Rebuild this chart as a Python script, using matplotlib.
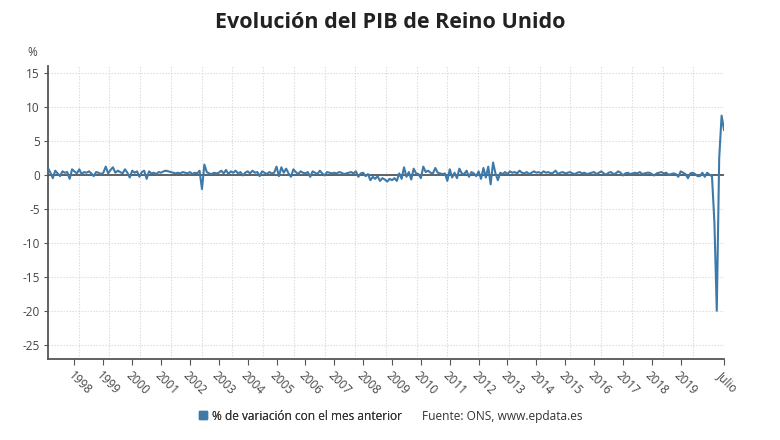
import numpy as np
import matplotlib
matplotlib.use("Agg")
import matplotlib.pyplot as plt
from matplotlib.lines import Line2D

plt.rcParams['font.family'] = ['Open Sans', 'DejaVu Sans']

# monthly % change vs previous month, Feb 1997 - Jul 2020
y1997 = [1.0, 0.3, -0.5, 0.6, 0.2, -0.2, 0.5, 0.3, 0.4, -0.6, 0.8]
y1998 = [0.5, 0.2, 0.8, 0.1, 0.4, 0.3, 0.5, 0.2, -0.2, 0.4, 0.3, 0.1]
y1999 = [0.3, 1.2, 0.2, 0.7, 1.1, 0.3, 0.6, 0.4, 0.2, 0.8, 0.3, -0.4]
y2000 = [0.6, 0.3, 0.5, -0.3, 0.4, 0.6, -0.6, 0.5, 0.2, 0.3, 0.1, 0.4]
y2001 = [0.3, 0.5, 0.6, 0.5, 0.4, 0.3, 0.2, 0.3, 0.2, 0.4, 0.3, 0.2]
y2002 = [0.4, 0.1, 0.3, 0.2, 0.6, -2.1, 1.5, 0.4, 0.2, 0.1, 0.3, 0.2]
y2003 = [0.3, 0.6, 0.2, 0.7, 0.1, 0.5, 0.3, 0.6, 0.2, 0.4, -0.1, 0.3]
y2004 = [0.5, 0.2, 0.6, 0.3, 0.4, -0.2, 0.5, 0.3, 0.1, 0.4, 0.2, 0.3]
y2005 = [1.2, -0.2, 1.1, 0.3, 0.9, 0.2, -0.3, 0.8, 0.4, 0.1, 0.5, 0.3]
y2006 = [0.2, 0.4, -0.3, 0.5, 0.3, 0.1, 0.6, 0.2, -0.1, 0.4, 0.3, 0.2]
y2007 = [0.3, 0.2, 0.4, 0.3, 0.1, 0.2, 0.3, 0.4, 0.2, 0.5, -0.3, 0.2]
y2008 = [0.3, -0.2, 0.1, -0.8, -0.3, -0.6, -0.2, -0.9, -0.5, -0.7, -1.0, -0.6]
y2009 = [-0.8, -0.5, -0.9, 0.2, -0.6, 1.1, -0.3, 0.4, -0.7, 0.9, 0.2, 0.1]
y2010 = [-0.5, 1.2, 0.4, 0.6, 0.3, 0.2, 1.0, 0.3, 0.2, 0.1, 0.2, -0.9]
y2011 = [0.8, -0.4, 0.3, -0.5, 0.9, 0.2, 0.1, 0.6, -0.3, 0.4, 0.2, -0.2]
y2012 = [0.5, -0.6, 1.0, -0.4, 1.2, -1.4, 1.8, 0.2, -0.8, 0.3, 0.1, 0.4]
y2013 = [0.1, 0.5, 0.3, 0.4, 0.2, 0.6, 0.3, 0.2, 0.4, 0.1, 0.3, 0.5]
y2014 = [0.3, 0.4, 0.2, 0.5, 0.3, 0.4, 0.2, 0.3, 0.6, 0.1, 0.3, 0.4]
y2015 = [0.2, 0.3, 0.4, 0.2, 0.1, 0.3, 0.4, 0.2, 0.3, 0.1, 0.2, 0.3]
y2016 = [0.4, 0.1, 0.3, 0.5, 0.2, 0.0, 0.3, 0.4, 0.1, 0.2, 0.5, 0.3]
y2017 = [-0.1, 0.2, 0.3, 0.1, 0.2, 0.3, 0.2, 0.4, 0.1, 0.2, 0.3, 0.3]
y2018 = [0.1, -0.1, 0.2, 0.3, 0.4, 0.2, 0.3, 0.0, 0.1, 0.2, 0.1, -0.3]
y2019 = [0.5, 0.3, 0.1, -0.5, 0.2, 0.3, 0.1, -0.2, -0.2, 0.3, -0.3, 0.3]
y2020 = [0.0, -0.2, -6.9, -20.0, 2.4, 8.7, 6.6]

values = (y1997 + y1998 + y1999 + y2000 + y2001 + y2002 + y2003 + y2004 + y2005
          + y2006 + y2007 + y2008 + y2009 + y2010 + y2011 + y2012 + y2013
          + y2014 + y2015 + y2016 + y2017 + y2018 + y2019 + y2020)

start_year, start_month = 1997, 2
years = [1998 + i for i in range(22)]
year_labels = [str(y) for y in years]
last_label = "Julio"
yticks = [-25, -20, -15, -10, -5, 0, 5, 10, 15]

title = "Evolución del PIB de Reino Unido"
legend_label = "% de variación con el mes anterior"
source = "Fuente: ONS, www.epdata.es"

# x in fractional years
x = [start_year + (start_month - 1 + i) / 12 for i in range(len(values))]

line_color = "#3e7aa9"
axis_color = "#555555"
text_color = "#444444"

fig = plt.figure(figsize=(7.8, 4.4), dpi=100)
ax = fig.add_axes([48 / 780, 1 - 359 / 440, (724 - 48) / 780, (359 - 66) / 440])

xmin, xmax = x[0], x[-1]
ax.set_xlim(xmin, xmax)
ax.set_ylim(-27.1, 16.0)

# grid
for gx in np.linspace(xmin, xmax, 23)[1:]:
    ax.axvline(gx, color="#d8d8e2", lw=0.8, ls=(0, (1.2, 1.5)), zorder=0)
for gy in yticks:
    ax.axhline(gy, color="#d8d8e2", lw=0.8, ls=(0, (1.2, 1.5)), zorder=0)

ax.axhline(0, color=axis_color, lw=1.3, zorder=2)
ax.plot(x, values, color=line_color, lw=1.5, zorder=3)

ax.spines["top"].set_visible(False)
ax.spines["right"].set_visible(False)
ax.spines["left"].set_color(axis_color)
ax.spines["bottom"].set_color(axis_color)
ax.spines["left"].set_linewidth(1.3)
ax.spines["bottom"].set_linewidth(1.3)

ax.set_yticks(yticks)
ax.set_yticklabels([str(v) for v in yticks])
ax.tick_params(axis="y", length=3, width=0.8, color=axis_color,
               labelsize=8.5, labelcolor=text_color, pad=3)

ax.set_xticks(years + [xmax])
ax.set_xticklabels(year_labels + [last_label], rotation=-45, ha="left", va="top",
                   rotation_mode="anchor")
ax.tick_params(axis="x", length=4, width=0.8, color=axis_color,
               labelsize=8.5, labelcolor=text_color, pad=3)

fig.text(27 / 780, 1 - 52 / 440, "%", fontsize=8.5, color=text_color, ha="left", va="center")
fig.text(0.5, 1 - 22 / 440, title, fontsize=15.5, fontweight="bold", color="#222222",
         ha="center", va="center")

# legend / source
ax.add_artist(ax.legend([Line2D([0], [0], marker="s", color="none", markerfacecolor=line_color,
                                markeredgecolor=line_color, markersize=6)],
                        [legend_label], loc="center left",
                        bbox_to_anchor=(192 / 780, 1 - 416 / 440),
                        bbox_transform=fig.transFigure, frameon=False,
                        handlelength=0.8, handletextpad=0.4, borderpad=0,
                        prop={"size": 8.6}, labelcolor="#333333"))
fig.text(422 / 780, 1 - 416 / 440, source, fontsize=8.6, color="#333333",
         ha="left", va="center")

fig.savefig("out.png", dpi=100)
